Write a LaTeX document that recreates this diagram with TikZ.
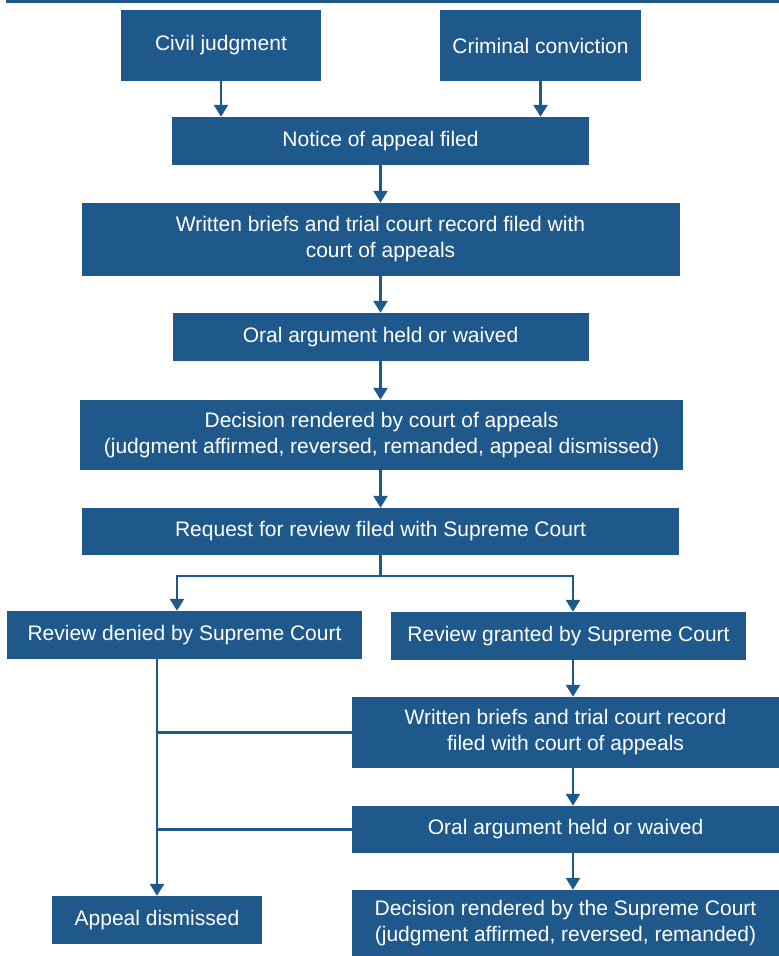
\documentclass[tikz,border=0pt]{standalone}
\usepackage{fontspec}
\setmainfont{Liberation Sans}
\usetikzlibrary{arrows.meta,positioning}
\definecolor{courtblue}{RGB}{31,89,140}
\tikzset{>={Triangle[width=14pt,length=12pt]}}
\tikzset{
  stage/.style={fill=courtblue,text=white,align=center,inner sep=0pt,
    font=\fontsize{21}{26}\selectfont},
  link/.style={draw=courtblue,line width=2.5pt},
}

\begin{document}
\begin{tikzpicture}[x=1pt,y=-1pt]
\useasboundingbox (0,0) rectangle (779,956);
\fill[courtblue] (6,0) rectangle (779,2.5);
% left branch
\node[stage,minimum width=200pt,minimum height=71pt] (civil) at (221,45.5) {Civil judgment};
\node[stage,minimum width=201pt,minimum height=71pt] (criminal) at (540.5,45.5) {Criminal conviction};
\node[stage,minimum width=417pt,minimum height=48pt] (notice) at (380.5,141) {Notice of appeal filed};
\node[stage,minimum width=598pt,minimum height=73pt] (briefs) at (380.5,239.5) {Written briefs and trial court record filed with\\court of appeals};
\node[stage,minimum width=416pt,minimum height=48pt] (oral) at (380.5,337) {Oral argument held or waived};
\node[stage,minimum width=603pt,minimum height=70pt] (decision) at (381.5,435) {Decision rendered by court of appeals\\(judgment affirmed, reversed, remanded, appeal dismissed)};
\node[stage,minimum width=597pt,minimum height=47pt] (request) at (380.5,531.5) {Request for review filed with Supreme Court};
\node[stage,minimum width=355pt,minimum height=48pt] (denied) at (184.5,635) {Review denied by Supreme Court};
\node[stage,minimum width=355pt,minimum height=48pt] (granted) at (568.5,636) {Review granted by Supreme Court};
\node[stage,minimum width=427pt,minimum height=71pt] (briefsb) at (565.5,732.5) {Written briefs and trial court record\\filed with court of appeals};
\node[stage,minimum width=427pt,minimum height=47pt] (oralb) at (565.5,829.5) {Oral argument held or waived};
\node[stage,minimum width=427pt,minimum height=66pt] (decisionb) at (565.5,923) {Decision rendered by the Supreme Court\\(judgment affirmed, reversed, remanded)};
\node[stage,minimum width=210pt,minimum height=48pt] (dismissed) at (157,920) {Appeal dismissed};

\coordinate (split) at (380.5,576);
\coordinate (lcol) at (177,0);
\coordinate (rcol) at (573,0);

\draw[link,->] (civil.south) -- (civil.south |- notice.north);
\draw[link,->] (criminal.south) -- (criminal.south |- notice.north);
\draw[link,->] (notice) -- (briefs);
\draw[link,->] (briefs) -- (oral);
\draw[link,->] (oral.south) -- (oral.south |- decision.north);
\draw[link,->] (oral.south |- decision.south) -- (request);
\draw[link] (request.south) -- (split);
\draw[link,->] (split) -| (lcol |- denied.north);
\draw[link,->] (split) -| (rcol |- granted.north);
\draw[link,->] (rcol |- granted.south) -- (rcol |- briefsb.north);
\draw[link,->] (rcol |- briefsb.south) -- (rcol |- oralb.north);
\draw[link,->] (rcol |- oralb.south) -- (rcol |- decisionb.north);
\draw[link,->] (denied.south -| dismissed.north) -- (dismissed.north);
\draw[link] (briefsb.west) -- (briefsb.west -| dismissed.north);
\draw[link] (oralb.west) -- (oralb.west -| dismissed.north);
\end{tikzpicture}
\end{document}
